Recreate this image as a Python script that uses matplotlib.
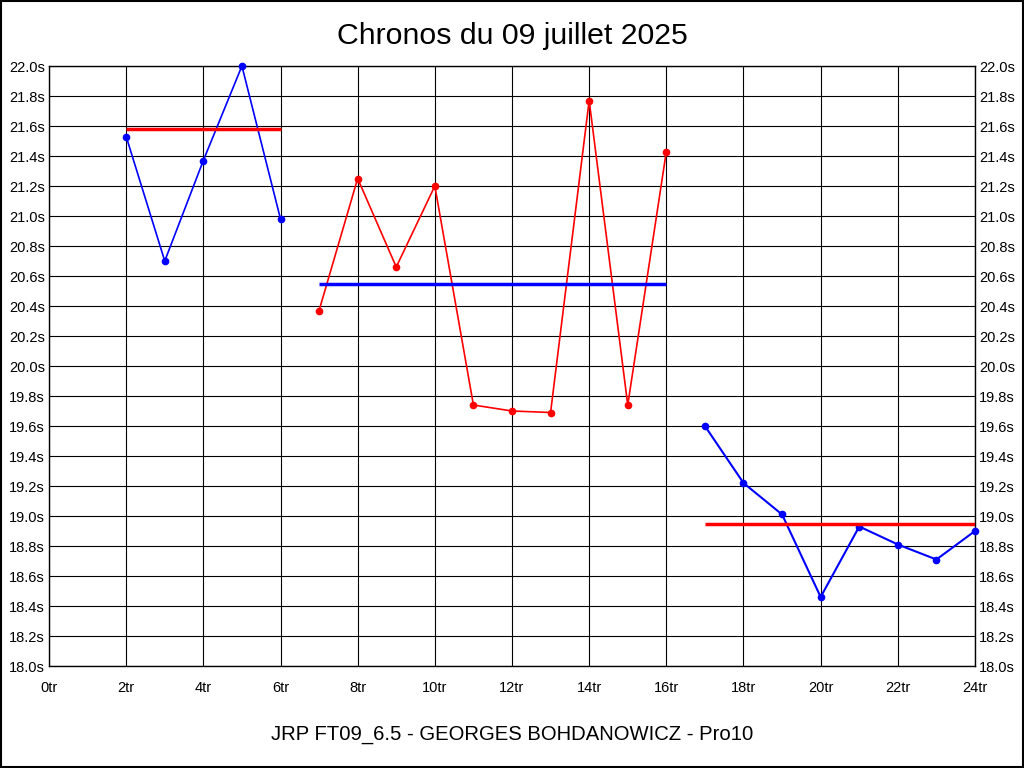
import matplotlib
matplotlib.use("Agg")
from matplotlib import pyplot as plt
from matplotlib.patches import Rectangle
import numpy as np

plt.rcParams['font.family'] = ['Liberation Sans', 'DejaVu Sans']

# lap numbers and times, split in three runs
laps_a = [2, 3, 4, 5, 6]
times_a = [21.53, 20.70, 21.37, 22.00, 20.98]
laps_b = [7, 8, 9, 10, 11, 12, 13, 14, 15, 16]
times_b = [20.37, 21.25, 20.66, 21.20, 19.74, 19.70, 19.69, 21.77, 19.74, 21.43]
laps_c = [17, 18, 19, 20, 21, 22, 23, 24]
times_c = [19.60, 19.22, 19.01, 18.46, 18.93, 18.81, 18.71, 18.90]

# reference (average) lines per run: start lap, end lap, value
avg_starts = [2, 7, 17]
avg_ends = [6, 16, 24]
avg_values = [21.58, 20.55, 18.95]

x_ticks = list(range(0, 25, 2))
x_labels = [f"{t}tr" for t in x_ticks]
y_ticks = np.round(np.arange(18.0, 22.01, 0.2), 1)
y_labels = [f"{v:.1f}s" for v in y_ticks]

fig = plt.figure(figsize=(10.24, 7.68), dpi=100)
ax = fig.add_axes([49 / 1024, 1 - 666 / 768, 926 / 1024, 600 / 768])

ax.set_xlim(0, 24)
ax.set_ylim(18.0, 22.0)
ax.set_xticks(x_ticks)
ax.set_xticklabels(x_labels, family=['Liberation Sans Narrow', 'Liberation Sans'], fontsize=10.5)
ax.set_yticks(y_ticks)
ax.set_yticklabels(y_labels, fontsize=10.5)
ax.tick_params(axis='both', length=0, pad=3, colors='black')
ax.tick_params(axis='x', pad=11)
ax.grid(True, color='black', linewidth=0.8)
ax.set_axisbelow(True)
for s in ax.spines.values():
    s.set_color('black')
    s.set_linewidth(1)

# right-hand copy of the y labels
ax2 = ax.twinx()
ax2.set_ylim(18.0, 22.0)
ax2.set_yticks(y_ticks)
ax2.set_yticklabels(y_labels, fontsize=10.5)
ax2.tick_params(axis='y', length=0, pad=3)
for s in ax2.spines.values():
    s.set_visible(False)
ax2.set_zorder(0)
ax.set_zorder(1)
ax.patch.set_visible(False)

ax.plot(laps_a, times_a, color='blue', linewidth=1.2, marker='o', markersize=4.5, zorder=3, clip_on=False)
ax.plot(laps_b, times_b, color='red', linewidth=1.2, marker='o', markersize=4.5, zorder=3, clip_on=False)
ax.plot(laps_c, times_c, color='blue', linewidth=1.5, marker='o', markersize=4.5, zorder=3, clip_on=False)

avg_colors = ['red', 'blue', 'red']
for x0, x1, v, c in zip(avg_starts, avg_ends, avg_values, avg_colors):
    ax.plot([x0, x1], [v, v], color=c, linewidth=2.5, zorder=4, solid_capstyle='butt')

fig.text(0.5, 1 - 36 / 768, "Chronos du 09 juillet 2025", ha='center', va='center', fontsize=21.8)
fig.text(0.5, 1 - 735 / 768, "JRP FT09_6.5 - GEORGES BOHDANOWICZ - Pro10", ha='center', va='center', fontsize=14.6)

fig.patches.append(Rectangle((0.0005, 0.0007), 0.999, 0.9986, transform=fig.transFigure,
                             fill=False, edgecolor='black', linewidth=1.5))

plt.savefig("out.png", dpi=100)
